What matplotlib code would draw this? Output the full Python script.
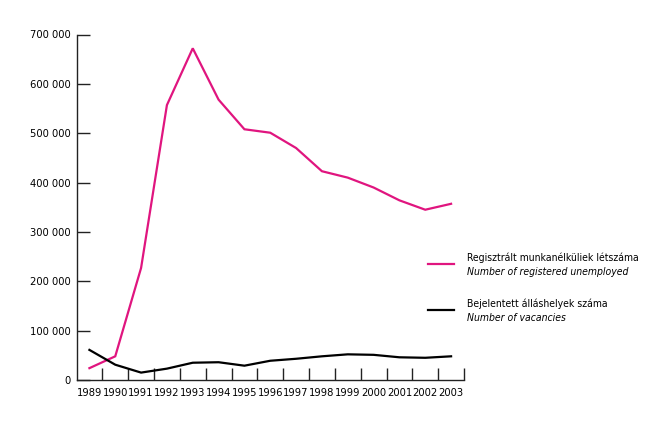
import matplotlib.pyplot as plt
import numpy as np
from matplotlib.lines import Line2D

plt.rcParams["font.family"] = ["DejaVu Sans"]
plt.rcParams["font.stretch"] = "condensed"

years = list(range(1989, 2004))
unemployed = [24000, 48000, 227000, 557000, 672000, 568000, 508000, 501000,
              470000, 423000, 410000, 390000, 364000, 345000, 357000]
vacancies = [61000, 31000, 15000, 23000, 35000, 36000, 29000, 39000,
             43000, 48000, 52000, 51000, 46000, 45000, 48000]
y_ticks = [0, 100000, 200000, 300000, 400000, 500000, 600000, 700000]
y_labels = ["0", "100 000", "200 000", "300 000", "400 000", "500 000",
            "600 000", "700 000"]
legend_hu = ["Regisztrált munkanélküliek létszáma", "Bejelentett álláshelyek száma"]
legend_en = ["Number of registered unemployed", "Number of vacancies"]

magenta = "#E0157F"
W, H = 651, 425

fig = plt.figure(figsize=(W / 100, H / 100), dpi=100)
ax = fig.add_axes([76.5 / W, 1 - 380 / H, (464 - 76.5) / W, (380 - 34.5) / H])

ax.plot(years, unemployed, color=magenta, lw=1.6, solid_joinstyle="miter")
ax.plot(years, vacancies, color="black", lw=1.6, solid_joinstyle="miter")

ax.set_xlim(years[0] - 0.5, years[-1] + 0.5)
ax.set_ylim(0, 700000)
for s in ["top", "right"]:
    ax.spines[s].set_visible(False)
for s in ["left", "bottom"]:
    ax.spines[s].set_linewidth(1.0)
    ax.spines[s].set_color("#222222")

ax.set_yticks(y_ticks)
ax.set_yticklabels(y_labels)
ax.set_xticks(years)
ax.set_xticklabels([str(y) for y in years])
# tick marks sit on the boundaries between years
ax.set_xticks(np.array(years[1:] + [years[-1] + 1]) - 0.5, minor=True)
ax.tick_params(axis="x", which="major", length=0, pad=6, labelsize=8)
ax.tick_params(axis="x", which="minor", direction="in", length=9, width=1.0,
               color="#222222")
ax.tick_params(axis="y", direction="in", length=9, width=1.0, color="#222222",
               pad=4.5, labelsize=8)

# legend drawn by hand
for i, (hu, en, c) in enumerate(zip(legend_hu, legend_en, [magenta, "black"])):
    yc = 264 + i * 46
    fig.add_artist(Line2D([428 / W, 454 / W], [1 - yc / H, 1 - yc / H],
                          color=c, lw=1.6))
    fig.text(467 / W, 1 - (yc - 6) / H, hu, fontsize=7.5, va="center")
    fig.text(467 / W, 1 - (yc + 8) / H, en, fontsize=7.5, va="center",
             style="italic")

fig.savefig("out.png", dpi=100)
